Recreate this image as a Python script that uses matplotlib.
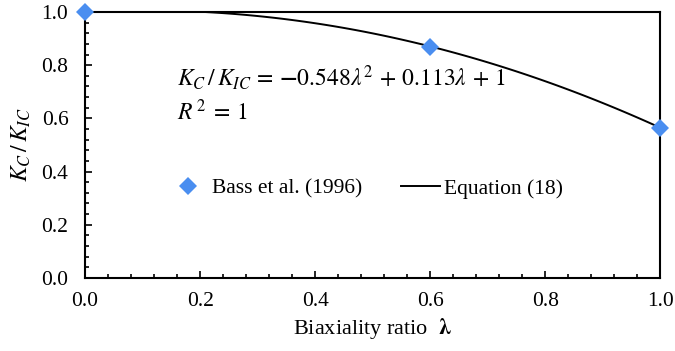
import matplotlib
matplotlib.use("Agg")
import matplotlib.pyplot as plt
import numpy as np
from matplotlib.ticker import MultipleLocator, FormatStrFormatter

# measured points (Bass et al. 1996)
lam_data = [0.0, 0.6, 1.0]
kc_data = [1.0, 0.87, 0.565]

# Equation (18) coefficients: a*lam^2 + b*lam + c
eq_coef = [-0.548, 0.113, 1.0]
lam_curve = np.linspace(0, 1, 101)
kc_curve = np.polyval(eq_coef, lam_curve)

plt.rcParams["font.family"] = "Liberation Serif"
plt.rcParams["mathtext.fontset"] = "stix"

fig = plt.figure(figsize=(6.75, 3.51), dpi=100)
ax = fig.add_axes([0.126, 0.208, 0.852, 0.758])

ax.plot(lam_curve, kc_curve, color="black", lw=1.4, label="Equation (18)", zorder=2)
ax.plot(lam_data, kc_data, "D", color="#4a8ef0", ms=9, mew=0, label="Bass et al. (1996)",
        clip_on=False, zorder=3)

ax.set_xlim(0, 1)
ax.set_ylim(0, 1)
ax.xaxis.set_major_locator(MultipleLocator(0.2))
ax.yaxis.set_major_locator(MultipleLocator(0.2))
ax.xaxis.set_minor_locator(MultipleLocator(0.04))
ax.yaxis.set_minor_locator(MultipleLocator(0.04))
ax.xaxis.set_major_formatter(FormatStrFormatter("%.1f"))
ax.yaxis.set_major_formatter(FormatStrFormatter("%.1f"))
ax.tick_params(which="both", direction="in", labelsize=15.5, width=1.2)
ax.tick_params(which="major", length=5)
ax.tick_params(which="minor", length=3)
ax.tick_params(axis="y", which="major", pad=12)
ax.tick_params(axis="x", which="major", pad=10)
for s in ax.spines.values():
    s.set_linewidth(1.5)

ax.set_xlabel(r"Biaxiality ratio  $\mathbf{\lambda}$", fontsize=16, labelpad=4)
ax.set_ylabel(r"$K_C\,/\,K_{IC}$", fontsize=17, labelpad=6)

ax.text(0.16, 0.752,
        r"$K_C\,/\,K_{IC}\,=\,\mathbf{-}0.548\lambda^2\,+\,0.113\lambda\,+\,1$",
        fontsize=17, va="center")
ax.text(0.16, 0.624, r"$R^{\,2}\;{=}\,1$", fontsize=17, va="center")

h, l = ax.get_legend_handles_labels()
ax.legend(h[::-1], l[::-1], ncol=2, frameon=False, fontsize=15.5,
          loc="center left", bbox_to_anchor=(0.146, 0.335), borderpad=0,
          borderaxespad=0, columnspacing=1.8, handlelength=1.8, handletextpad=0.2)

fig.savefig("out.png", dpi=100)
